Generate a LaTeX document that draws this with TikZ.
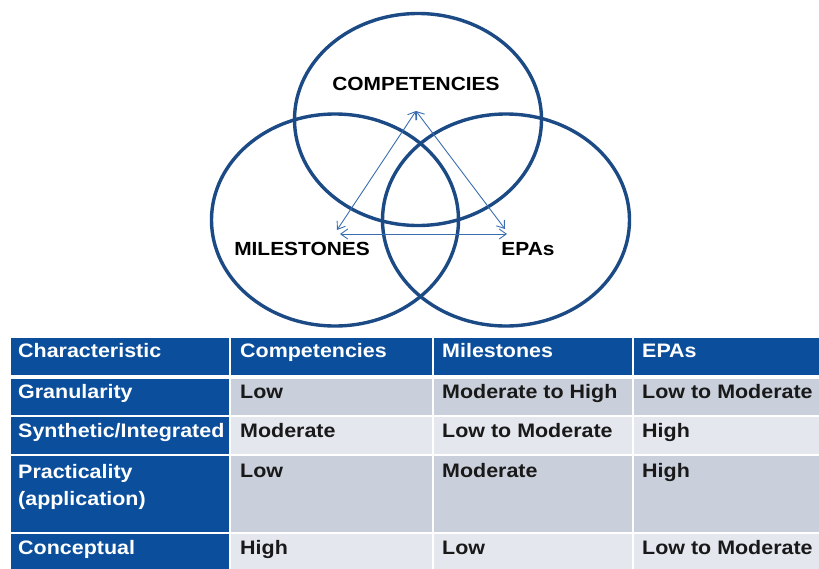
\documentclass[tikz,border=0pt]{standalone}
\usepackage{fontspec}
\setmainfont{Liberation Sans}[FakeStretch=1.1]
\usetikzlibrary{shapes.geometric,arrows.meta}

\definecolor{venncol}{HTML}{1B4A85}
\definecolor{arrcol}{HTML}{3A6DB0}
\definecolor{hdrblue}{HTML}{0B4F9C}
\definecolor{rowdark}{HTML}{C9CFDB}
\definecolor{rowlight}{HTML}{E4E7EE}

\tikzset{
  venn/.style={draw=venncol, line width=3.4pt, ellipse, minimum width=247pt, minimum height=212pt, inner sep=0pt},
  lbl/.style={font=\bfseries\fontsize{19}{22}\selectfont, text=black, inner sep=0pt, anchor=base},
  link/.style={draw=arrcol, line width=0.9pt, {Straight Barb[length=7pt,width=10pt]}-{Straight Barb[length=7pt,width=10pt]}},
  cell/.style={font=\bfseries\fontsize{19.5}{27}\selectfont, inner sep=0pt, anchor=base west, align=left},
  hcell/.style={cell, text=white},
  bcell/.style={cell, text=black!90}
}

\begin{document}
\begin{tikzpicture}[x=1pt,y=-1pt]
\useasboundingbox (0,0) rectangle (819,568);

% the three overlapping sets
\node[venn] (comp) at (418,119.5) {};
\node[venn] (mile) at (335,220) {};
\node[venn] (epa) at (506,220) {};

\node[lbl] (tcomp) at (416,90) {COMPETENCIES};
\node[lbl] (tmile) at (302,255) {MILESTONES};
\node[lbl] (tepa) at (528,255) {EPAs};

% triangle of links
\coordinate (top) at (416,111);
\coordinate (bl) at (337,230);
\coordinate (br) at (505,229);
\coordinate (hl) at (340,234);
\coordinate (hr) at (507,234);
\draw[link] (top) -- (bl);
\draw[link] (top) -- (br);
\draw[link] (hl) -- (hr);

% table backgrounds
\fill[hdrblue] (11,338) rectangle (819,375);
\fill[hdrblue] (11,379) rectangle (229,415);
\fill[hdrblue] (11,417) rectangle (229,454);
\fill[hdrblue] (11,456) rectangle (229,532);
\fill[hdrblue] (11,534) rectangle (229,570);
\fill[rowdark] (231,379) rectangle (819,415);
\fill[rowlight] (231,417) rectangle (819,454);
\fill[rowdark] (231,456) rectangle (819,532);
\fill[rowlight] (231,534) rectangle (819,570);
\draw[white, line width=1.6pt] (230,338) -- (230,570);
\draw[white, line width=1.6pt] (433,338) -- (433,570);
\draw[white, line width=1.6pt] (633,338) -- (633,570);

% header row
\node[hcell] (h1) at (18,357) {Characteristic};
\node[hcell] (h2) at (240,357) {Competencies};
\node[hcell] (h3) at (442,357) {Milestones};
\node[hcell] (h4) at (642,357) {EPAs};

% granularity
\node[hcell] (r1c1) at (18,398) {Granularity};
\node[bcell] (r1c2) at (240,398) {Low};
\node[bcell] (r1c3) at (442,398) {Moderate to High};
\node[bcell] (r1c4) at (642,398) {Low to Moderate};

% synthetic
\node[hcell] (r2c1) at (18,437) {Synthetic/Integrated};
\node[bcell] (r2c2) at (240,437) {Moderate};
\node[bcell] (r2c3) at (442,437) {Low to Moderate};
\node[bcell] (r2c4) at (642,437) {High};

% practicality (two lines, base is the last one)
\node[hcell] (r3c1) at (18,505) {Practicality\\(application)};
\node[bcell] (r3c2) at (240,477) {Low};
\node[bcell] (r3c3) at (442,477) {Moderate};
\node[bcell] (r3c4) at (642,477) {High};

% conceptual
\node[hcell] (r4c1) at (18,554) {Conceptual};
\node[bcell] (r4c2) at (240,554) {High};
\node[bcell] (r4c3) at (442,554) {Low};
\node[bcell] (r4c4) at (642,554) {Low to Moderate};
\end{tikzpicture}
\end{document}
